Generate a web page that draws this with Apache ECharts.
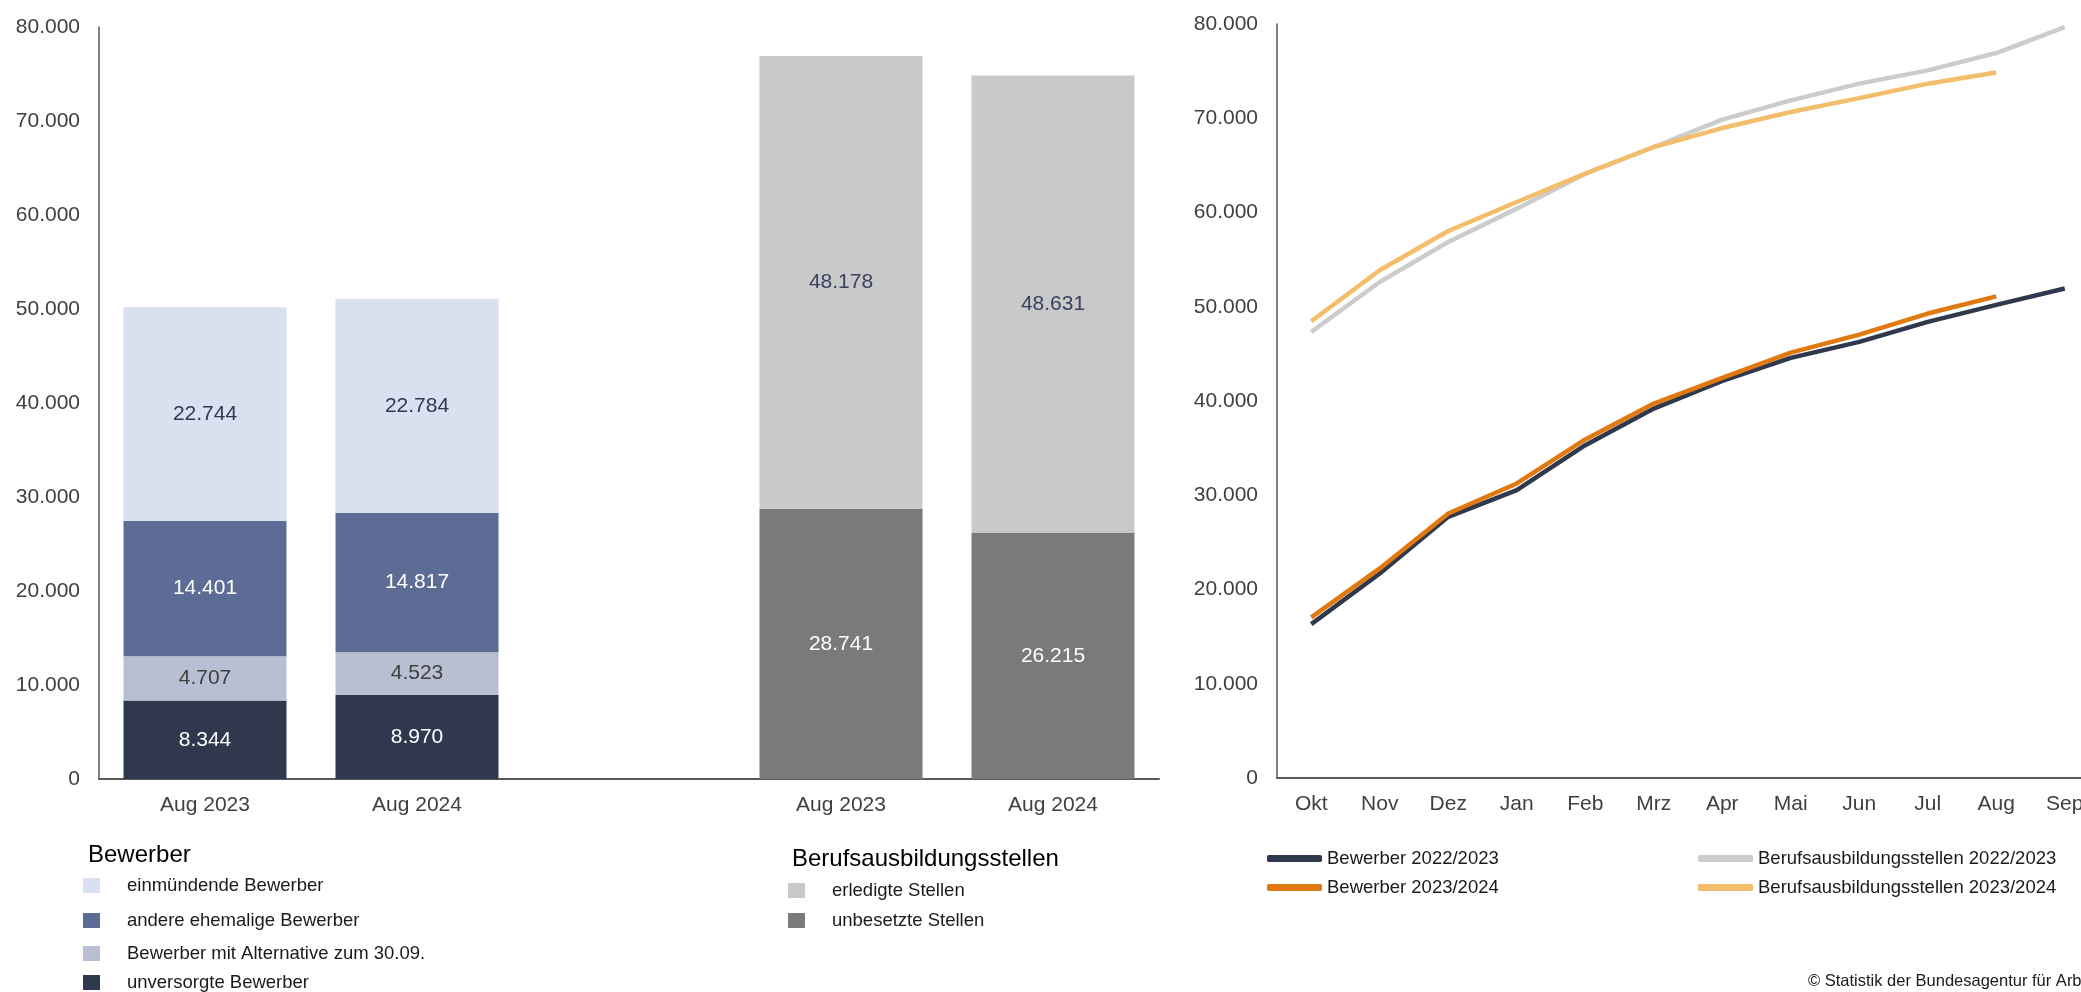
<!DOCTYPE html>
<html>
<head>
<meta charset="utf-8">
<title>Bewerber und Berufsausbildungsstellen</title>
<script src="https://cdn.jsdelivr.net/npm/echarts@6/dist/echarts.min.js"></script>
<style>
    html, body { margin: 0; padding: 0; background: #fff; }
    #chart { width: 2081px; height: 992px; }
</style>
</head>
<body>
<div id="chart"></div>
<script>
    // linke Grafik: Bestand im August
    var barCategories = ['Aug 2023', 'Aug 2024', '', 'Aug 2023', 'Aug 2024'];
    var unversorgt = [8344, 8970, '-', '-', '-'];
    var alternative = [4707, 4523, '-', '-', '-'];
    var andereEhemalige = [14401, 14817, '-', '-', '-'];
    var einmuendend = [22744, 22784, '-', '-', '-'];
    var unbesetzt = ['-', '-', '-', 28741, 26215];
    var erledigt = ['-', '-', '-', 48178, 48631];

    // rechte Grafik: kumulierter Verlauf
    var months = ['Okt', 'Nov', 'Dez', 'Jan', 'Feb', 'Mrz', 'Apr', 'Mai', 'Jun', 'Jul', 'Aug', 'Sep'];
    var bewerber2223 = [16330, 21700, 27710, 30540, 35310, 39200, 42130, 44570, 46270, 48390, 50196, 51930];
    var bewerber2324 = [17040, 22240, 28070, 31250, 35920, 39730, 42450, 45140, 47050, 49280, 51094, '-'];
    var stellen2223 = [47330, 52630, 56870, 60410, 64120, 66950, 69850, 71900, 73670, 75080, 76919, 79670];
    var stellen2324 = [48460, 53870, 58040, 61110, 64120, 66950, 68960, 70660, 72140, 73670, 74846, '-'];

    var yMax = 80000;
    var yStep = 10000;

    var FONT = '"Liberation Sans", Arial, sans-serif';
    var AXIS = '#595959';

    function fmt(v) {// Tausenderpunkt
        return String(v).replace(/\B(?=(\d{3})+(?!\d))/g, '.');
    }

    function barSeries(name, data, color, labelColor) {
        return {
            name: name,
            type: 'bar',
            stack: 'all',
            barWidth: 163,
            xAxisIndex: 0,
            yAxisIndex: 0,
            data: data,
            itemStyle: { color: color },
            label: {
                show: true,
                position: 'inside',
                color: labelColor,
                fontFamily: FONT,
                fontSize: 21,
                formatter: function (p) { return fmt(p.value); }
            }
        };
    }

    function lineSeries(name, data, color) {
        return {
            name: name,
            type: 'line',
            xAxisIndex: 1,
            yAxisIndex: 1,
            data: data,
            color: color,
            showSymbol: false,
            symbol: 'none',
            lineStyle: { color: color, width: 4.5 },
            z: 3
        };
    }

    function boxLegend(name, left, top) {
        return {
            data: [name],
            left: left,
            top: top,
            padding: 0,
            selectedMode: false,
            icon: 'rect',
            itemWidth: 17,
            itemHeight: 15,
            textStyle: { fontFamily: FONT, fontSize: 18.5, color: '#1a1a1a', lineHeight: 18, padding: [0, 0, 0, 22] }
        };
    }

    function lineLegend(names, left, top) {
        return {
            data: names,
            orient: 'vertical',
            left: left,
            top: top,
            padding: 0,
            itemGap: 10,
            selectedMode: false,
            icon: 'roundRect',
            itemWidth: 55,
            itemHeight: 7,
            textStyle: { fontFamily: FONT, fontSize: 18.5, color: '#1a1a1a', lineHeight: 18 }
        };
    }

    function valueAxis(gridIndex) {
        return {
            type: 'value',
            gridIndex: gridIndex,
            min: 0,
            max: yMax,
            interval: yStep,
            axisLine: { show: true, lineStyle: { color: AXIS, width: 1.5 } },
            axisTick: { show: false },
            splitLine: { show: false },
            axisLabel: { color: '#404040', fontFamily: FONT, fontSize: 21, margin: 19, formatter: fmt }
        };
    }

    function categoryAxis(gridIndex, data) {
        return {
            type: 'category',
            gridIndex: gridIndex,
            data: data,
            axisLine: { show: true, lineStyle: { color: AXIS, width: 2 } },
            axisTick: { show: false },
            axisLabel: { color: '#404040', fontFamily: FONT, fontSize: 21, margin: 16, interval: 0 }
        };
    }

    var option = {
        backgroundColor: '#fff',
        animation: false,
        grid: [
            { left: 99, top: 27, width: 1060, height: 752, outerBoundsMode: 'none' },
            // rechte Grafik läuft über den Bildrand hinaus (Sep abgeschnitten)
            { left: 1277, top: 24, width: 822, height: 754, outerBoundsMode: 'none' }
        ],
        xAxis: [categoryAxis(0, barCategories), categoryAxis(1, months)],
        yAxis: [valueAxis(0), valueAxis(1)],
        legend: [
            boxLegend('einmündende Bewerber', 83, 876),
            boxLegend('andere ehemalige Bewerber', 83, 911),
            boxLegend('Bewerber mit Alternative zum 30.09.', 83, 944),
            boxLegend('unversorgte Bewerber', 83, 973),
            boxLegend('erledigte Stellen', 788, 881),
            boxLegend('unbesetzte Stellen', 788, 911),
            lineLegend(['Bewerber 2022/2023', 'Bewerber 2023/2024'], 1267, 849),
            lineLegend(['Berufsausbildungsstellen 2022/2023', 'Berufsausbildungsstellen 2023/2024'], 1698, 849)
        ],
        graphic: [
            { type: 'text', left: 88, top: 843, style: { text: 'Bewerber', font: '24px ' + FONT, fill: '#000' } },
            { type: 'text', left: 792, top: 847, style: { text: 'Berufsausbildungsstellen', font: '24px ' + FONT, fill: '#000' } },
            { type: 'text', left: 1808, top: 973, style: { text: '© Statistik der Bundesagentur für Arbeit', font: '16.5px ' + FONT, fill: '#1a1a1a' } }
        ],
        series: [
            barSeries('unversorgte Bewerber', unversorgt, '#30384d', '#fff'),
            barSeries('Bewerber mit Alternative zum 30.09.', alternative, '#b9bfd2', '#404040'),
            barSeries('andere ehemalige Bewerber', andereEhemalige, '#5d6c94', '#fff'),
            barSeries('einmündende Bewerber', einmuendend, '#d9e0f0', '#30384d'),
            barSeries('unbesetzte Stellen', unbesetzt, '#7a7a7a', '#fff'),
            barSeries('erledigte Stellen', erledigt, '#c9c9c9', '#3a4060'),
            lineSeries('Berufsausbildungsstellen 2022/2023', stellen2223, '#cccccc'),
            lineSeries('Berufsausbildungsstellen 2023/2024', stellen2324, '#f4bd6c'),
            lineSeries('Bewerber 2022/2023', bewerber2223, '#30384d'),
            lineSeries('Bewerber 2023/2024', bewerber2324, '#e07a10')
        ]
    };

    echarts.init(document.getElementById('chart')).setOption(option);
</script>
</body>
</html>
